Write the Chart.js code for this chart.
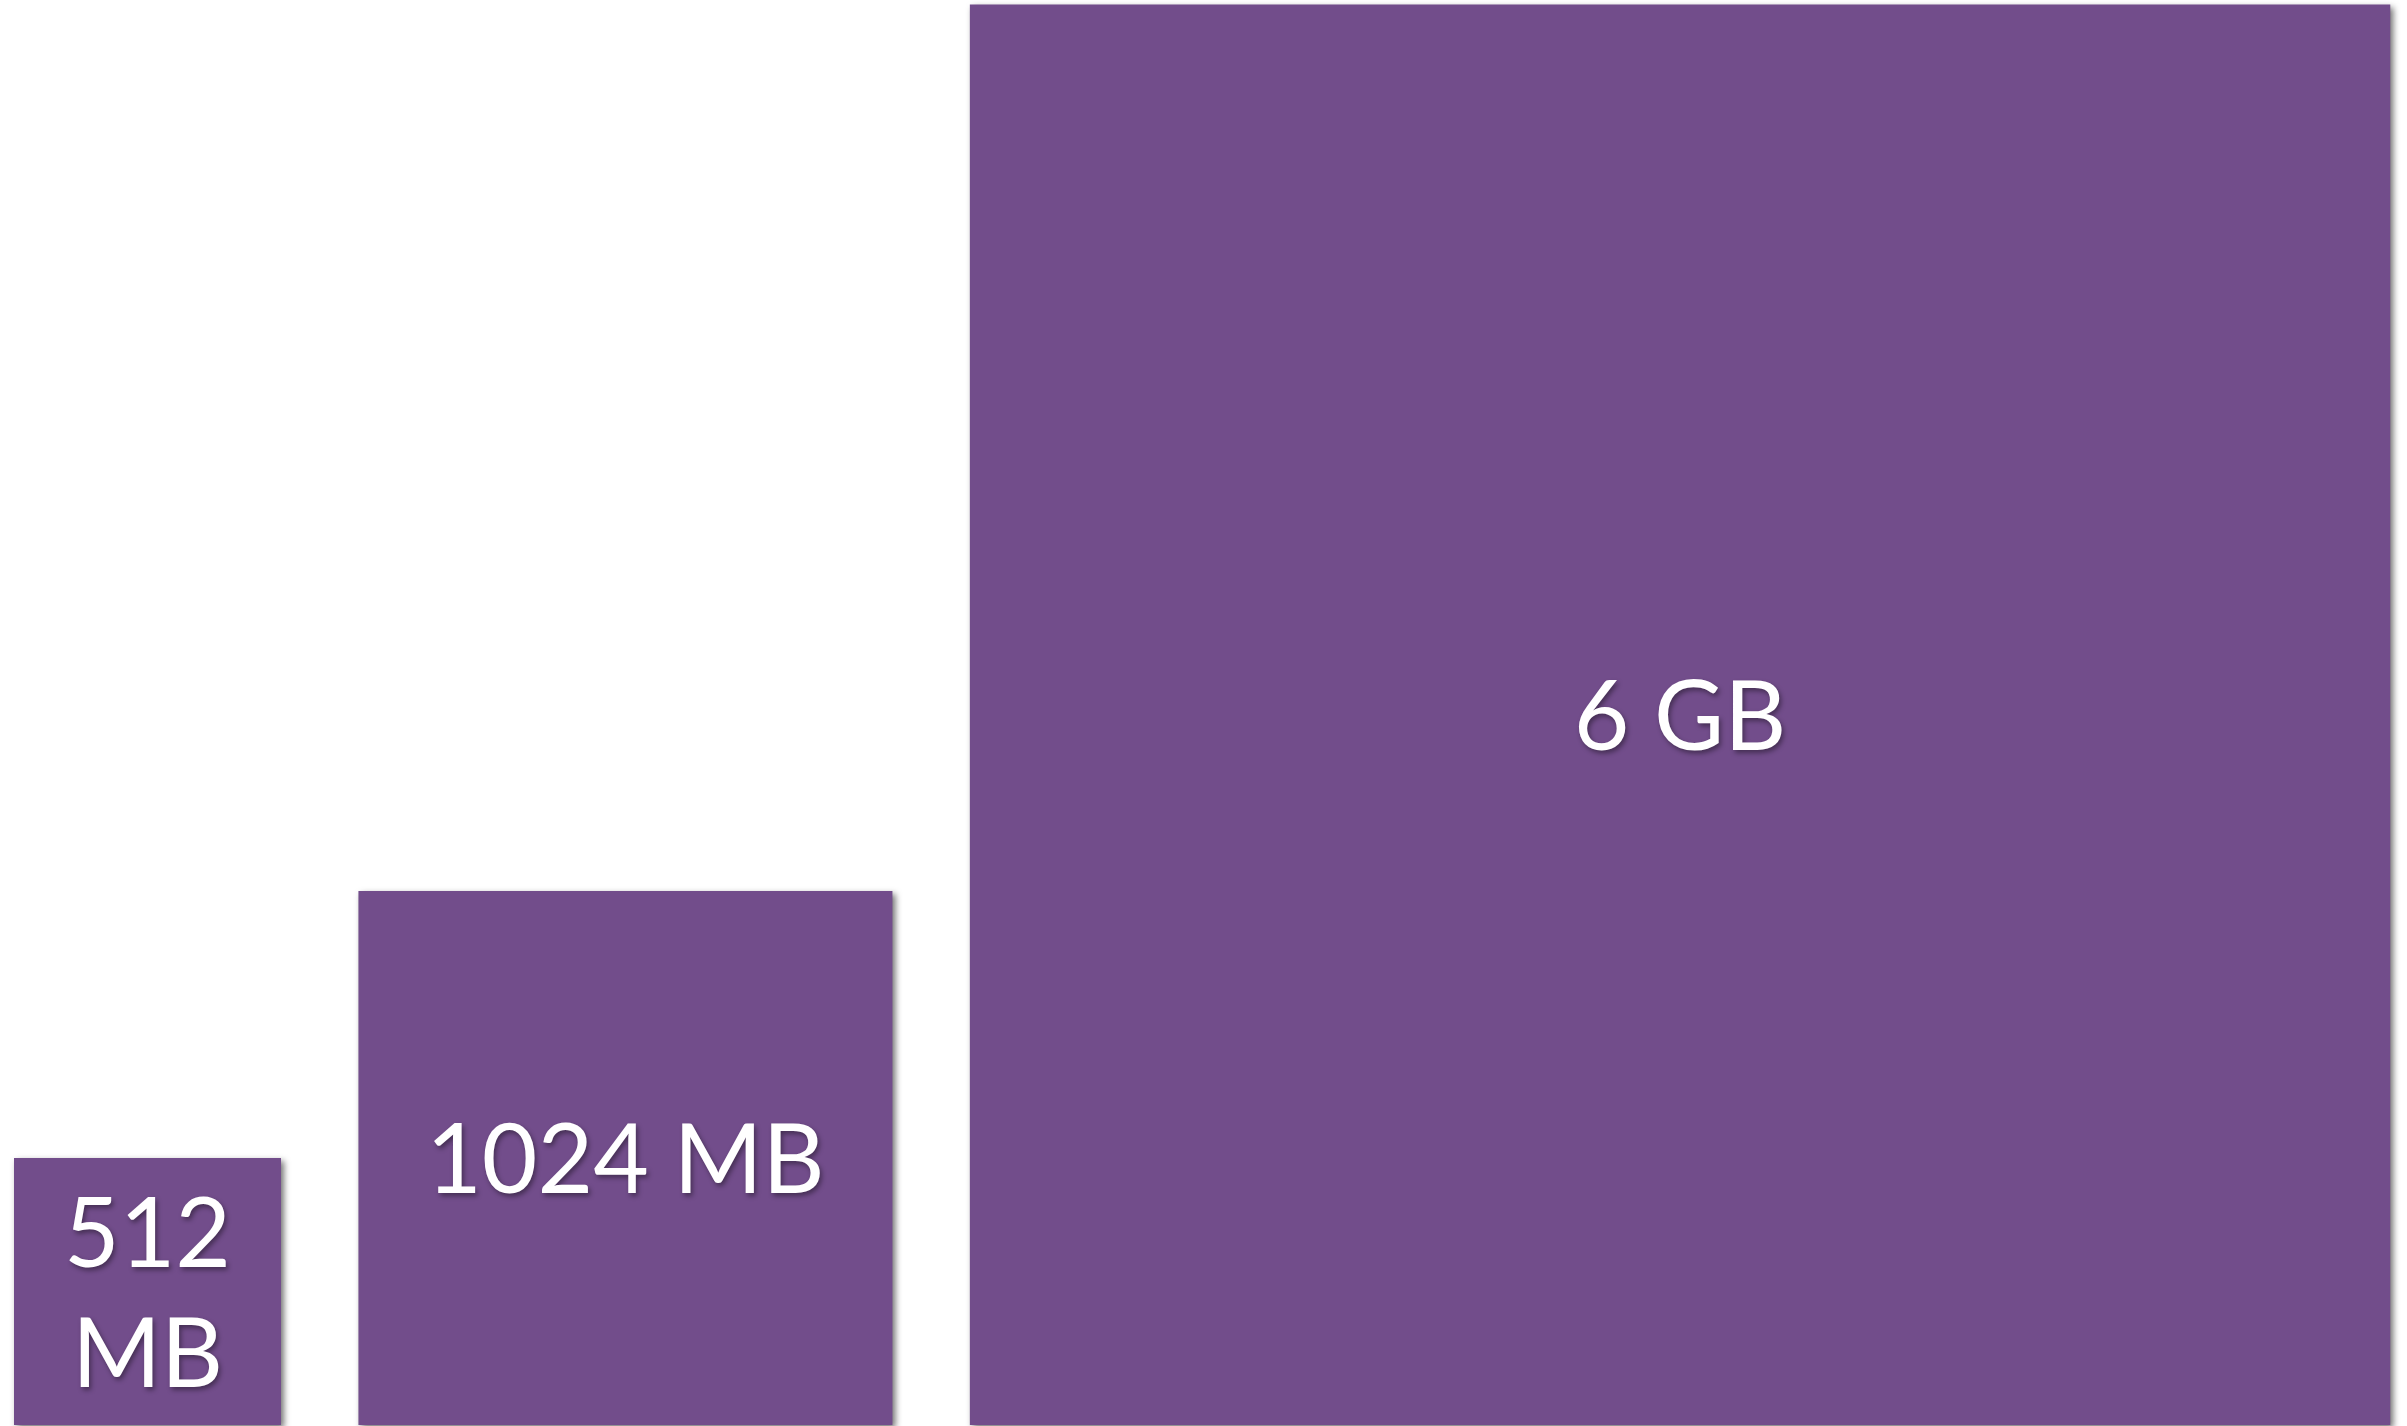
<!DOCTYPE html>
<html lang="en">
<head>
    <meta charset="UTF-8">
    <title>Memory sizes</title>
    <script src="https://cdn.jsdelivr.net/npm/chart.js"></script>
    <style>
        html, body {
            margin: 0;
            padding: 0;
            background: #ffffff;
        }
        #wrap {
            width: 2407px;
            height: 1426px;
        }
    </style>
</head>
<body>
    <div id="wrap"><canvas id="memChart"></canvas></div>

    <script>
        // Data
        const labels = [['512', 'MB'], ['1024 MB'], ['6 GB']];
        const memoryMB = [512, 1024, 6144];
        // side of each square, relative to the 512 MB one
        const sideLength = [1, 2, 5.32];

        // layout (pixels)
        const W = 2407, H = 1426;
        const UNIT_PX = 267;      // pixels for one unit of side length
        const LEFT_PX = 14;       // left margin
        const BASE_PX = 1425;     // where the squares sit
        const GAP = 0.29;         // space between squares, in units
        const purple = '#724d8b';

        // build each square as a closed outline from its side length
        let cursor = 0;
        const datasets = sideLength.map((s, i) => {
            const x0 = cursor;
            cursor += s + GAP;
            return {
                label: labels[i].join(' '),
                mb: memoryMB[i],
                data: [
                    {x: x0, y: 0},
                    {x: x0, y: s},
                    {x: x0 + s, y: s},
                    {x: x0 + s, y: 0},
                    {x: x0, y: 0}
                ],
                showLine: true,
                fill: 'shape',
                backgroundColor: purple,
                borderWidth: 0,
                pointRadius: 0,
                pointHoverRadius: 0,
                clip: false
            };
        });

        // soft drop shadow under the squares
        const shadowPlugin = {
            id: 'shadow',
            beforeDatasetsDraw(chart) {
                const ctx = chart.ctx;
                ctx.save();
                ctx.shadowColor = 'rgba(0,0,0,0.55)';
                ctx.shadowBlur = 6;
                ctx.shadowOffsetX = 3;
                ctx.shadowOffsetY = 3;
            },
            afterDatasetsDraw(chart) {
                chart.ctx.restore();
            }
        };

        // white labels centred in each square
        const labelPlugin = {
            id: 'squareLabels',
            afterDraw(chart) {
                const ctx = chart.ctx;
                const xs = chart.scales.x, ys = chart.scales.y;
                ctx.save();
                ctx.font = '96px Lato, "Open Sans", sans-serif';
                ctx.fillStyle = '#ffffff';
                ctx.textAlign = 'center';
                ctx.textBaseline = 'alphabetic';
                ctx.shadowColor = 'rgba(0,0,0,0.4)';
                ctx.shadowBlur = 5;
                ctx.shadowOffsetX = 2;
                ctx.shadowOffsetY = 3;
                const lineH = 120, capHalf = 35;
                chart.data.datasets.forEach((ds, i) => {
                    const s = sideLength[i];
                    const cx = xs.getPixelForValue(ds.data[0].x + s / 2);
                    const cy = ys.getPixelForValue(s / 2);
                    const lines = labels[i];
                    lines.forEach((t, k) => {
                        const off = (k - (lines.length - 1) / 2) * lineH;
                        ctx.fillText(t, cx, cy + off + capHalf);
                    });
                });
                ctx.restore();
            }
        };

        const ctx = document.getElementById('memChart').getContext('2d');
        new Chart(ctx, {
            type: 'scatter',
            data: { datasets: datasets },
            options: {
                responsive: true,
                maintainAspectRatio: false,
                animation: false,
                layout: { padding: 0 },
                plugins: {
                    legend: { display: false },
                    tooltip: { enabled: false }
                },
                scales: {
                    x: {
                        type: 'linear',
                        display: false,
                        bounds: 'data',
                        min: -LEFT_PX / UNIT_PX,
                        max: (W - LEFT_PX) / UNIT_PX
                    },
                    y: {
                        type: 'linear',
                        display: false,
                        bounds: 'data',
                        min: -(H - BASE_PX) / UNIT_PX,
                        max: BASE_PX / UNIT_PX
                    }
                }
            },
            plugins: [shadowPlugin, labelPlugin]
        });
    </script>
</body>
</html>
